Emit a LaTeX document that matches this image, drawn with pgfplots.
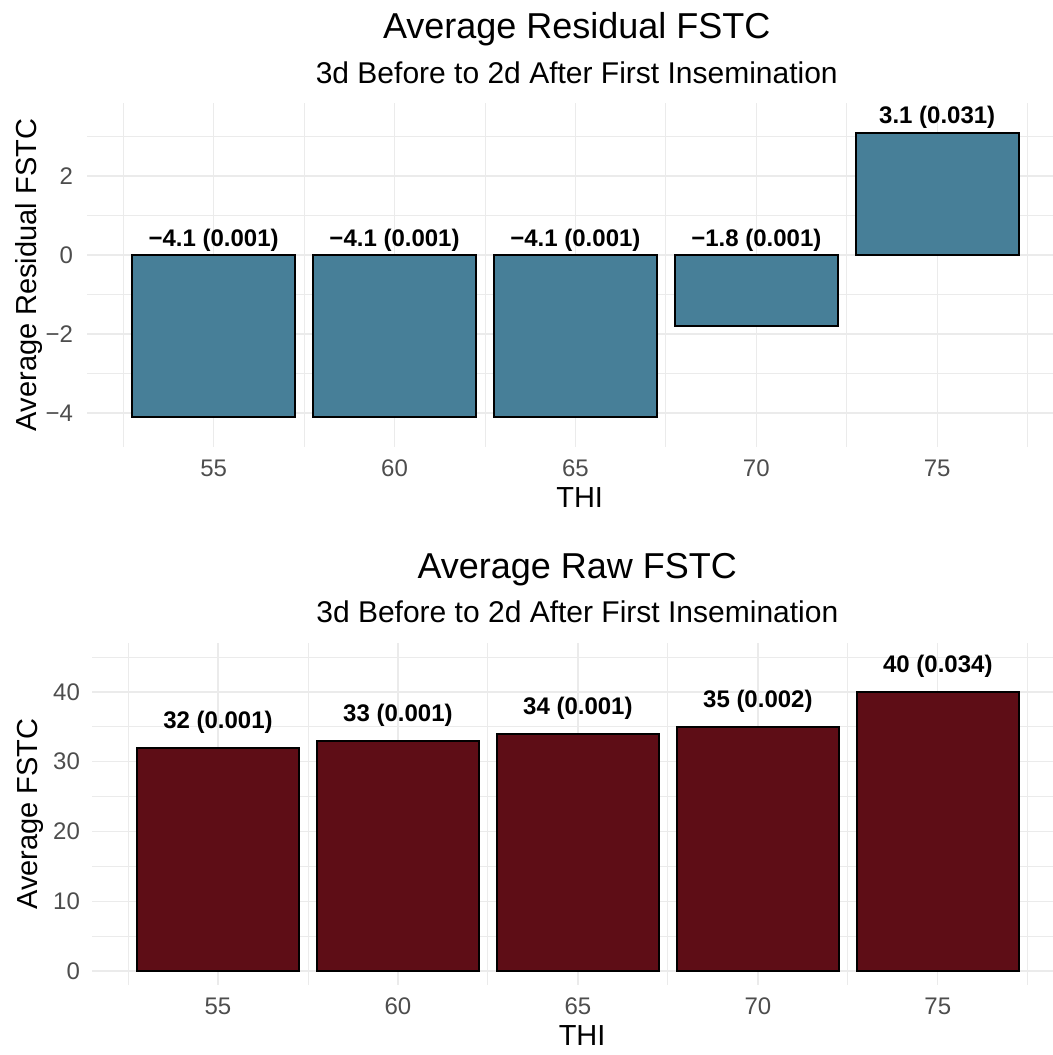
\documentclass[border=0pt]{standalone}
\usepackage{fontspec}
\setmainfont{Liberation Sans}
\usepackage{pgfplots}
\pgfplotsset{compat=1.18}

\definecolor{barblue}{RGB}{71,127,152}
\definecolor{barred}{RGB}{94,13,22}
\definecolor{gridgray}{RGB}{235,235,235}
\definecolor{ticktext}{RGB}{77,77,77}

% common look of both panels (theme_minimal style)
\pgfplotsset{
  panel/.style={
    scale only axis,
    clip=false,
    axis line style={draw=none},
    major tick length=0pt, minor tick length=0pt,
    xmin=51.5, xmax=78.2,
    xtick={55,60,65,70,75},
    minor xtick={52.5,57.5,62.5,67.5,72.5,77.5},
    grid=both,
    major grid style={gridgray, line width=0.65pt},
    minor grid style={gridgray, line width=0.45pt},
    tick label style={font=\fontsize{12}{14}\selectfont, text=ticktext},
    xticklabel style={yshift=-3pt},
    label style={font=\fontsize{14.5}{17}\selectfont},
    xlabel=THI,
    xlabel style={at={(axis description cs:0.51,0)}, anchor=base, yshift=-30pt},
    /pgf/number format/assume math mode=true,
    bar width=4.5,
  },
  barlabels/.style={
    only marks, mark=none,
    nodes near coords,
    point meta=explicit symbolic,
    nodes near coords style={anchor=base, yshift=#1, text=black,
      font=\bfseries\fontsize{12}{14}\selectfont},
  },
}

\begin{document}
\begin{tikzpicture}

% ---- top: residual FSTC ----
\begin{axis}[panel,
  at={(43.5pt,-51.5pt)}, anchor=north west,
  width=483pt, height=172pt,
  ymin=-4.86, ymax=3.85,
  ytick={-4,-2,0,2}, yticklabels={−4,−2,0,2},
  minor ytick={-3,-1,1,3},
  yticklabel style={xshift=-3.5pt},
  ylabel={Average Residual FSTC},
  ylabel style={at={(axis description cs:-0.0518,0.5)}, anchor=base},
]
\addplot[ybar, fill=barblue, draw=black, line width=0.9pt] coordinates {
  (55,-4.1) (60,-4.1) (65,-4.1) (70,-1.8) (75,3.1)
};
\addplot[barlabels=4.5pt] table[col sep=comma, row sep=\\, meta=lab] {
  x,y,lab\\
  55,0,−4.1 (0.001)\\
  60,0,−4.1 (0.001)\\
  65,0,−4.1 (0.001)\\
  70,0,−1.8 (0.001)\\
  75,3.1,3.1 (0.031)\\
};
\node[anchor=base, yshift=32.5pt, font=\fontsize{18}{21}\selectfont]
  at (rel axis cs:0.507,1) {Average Residual FSTC};
\node[anchor=base, yshift=10pt, font=\fontsize{15}{18}\selectfont]
  at (rel axis cs:0.507,1) {3d Before to 2d After First Insemination};
\end{axis}

% ---- bottom: raw FSTC ----
\begin{axis}[panel,
  at={(46pt,-321.5pt)}, anchor=north west,
  width=480.5pt, height=171pt,
  ymin=-2, ymax=47,
  ytick={0,10,20,30,40},
  minor ytick={5,15,25,35,45},
  yticklabel style={xshift=-2.5pt},
  ylabel={Average FSTC},
  ylabel style={at={(axis description cs:-0.0562,0.5)}, anchor=base},
]
\addplot[ybar, fill=barred, draw=black, line width=0.9pt] coordinates {
  (55,32) (60,33) (65,34) (70,35) (75,40)
};
\addplot[barlabels=9.5pt] table[col sep=comma, row sep=\\, meta=lab] {
  x,y,lab\\
  55,32,32 (0.001)\\
  60,33,33 (0.001)\\
  65,34,34 (0.001)\\
  70,35,35 (0.002)\\
  75,40,40 (0.034)\\
};
\node[anchor=base, yshift=32.5pt, font=\fontsize{18}{21}\selectfont]
  at (rel axis cs:0.505,1) {Average Raw FSTC};
\node[anchor=base, yshift=10.5pt, font=\fontsize{15}{18}\selectfont]
  at (rel axis cs:0.505,1) {3d Before to 2d After First Insemination};
\end{axis}

\pgfresetboundingbox
\path[use as bounding box] (0,0) rectangle (526.5pt,-527.5pt);
\end{tikzpicture}
\end{document}
